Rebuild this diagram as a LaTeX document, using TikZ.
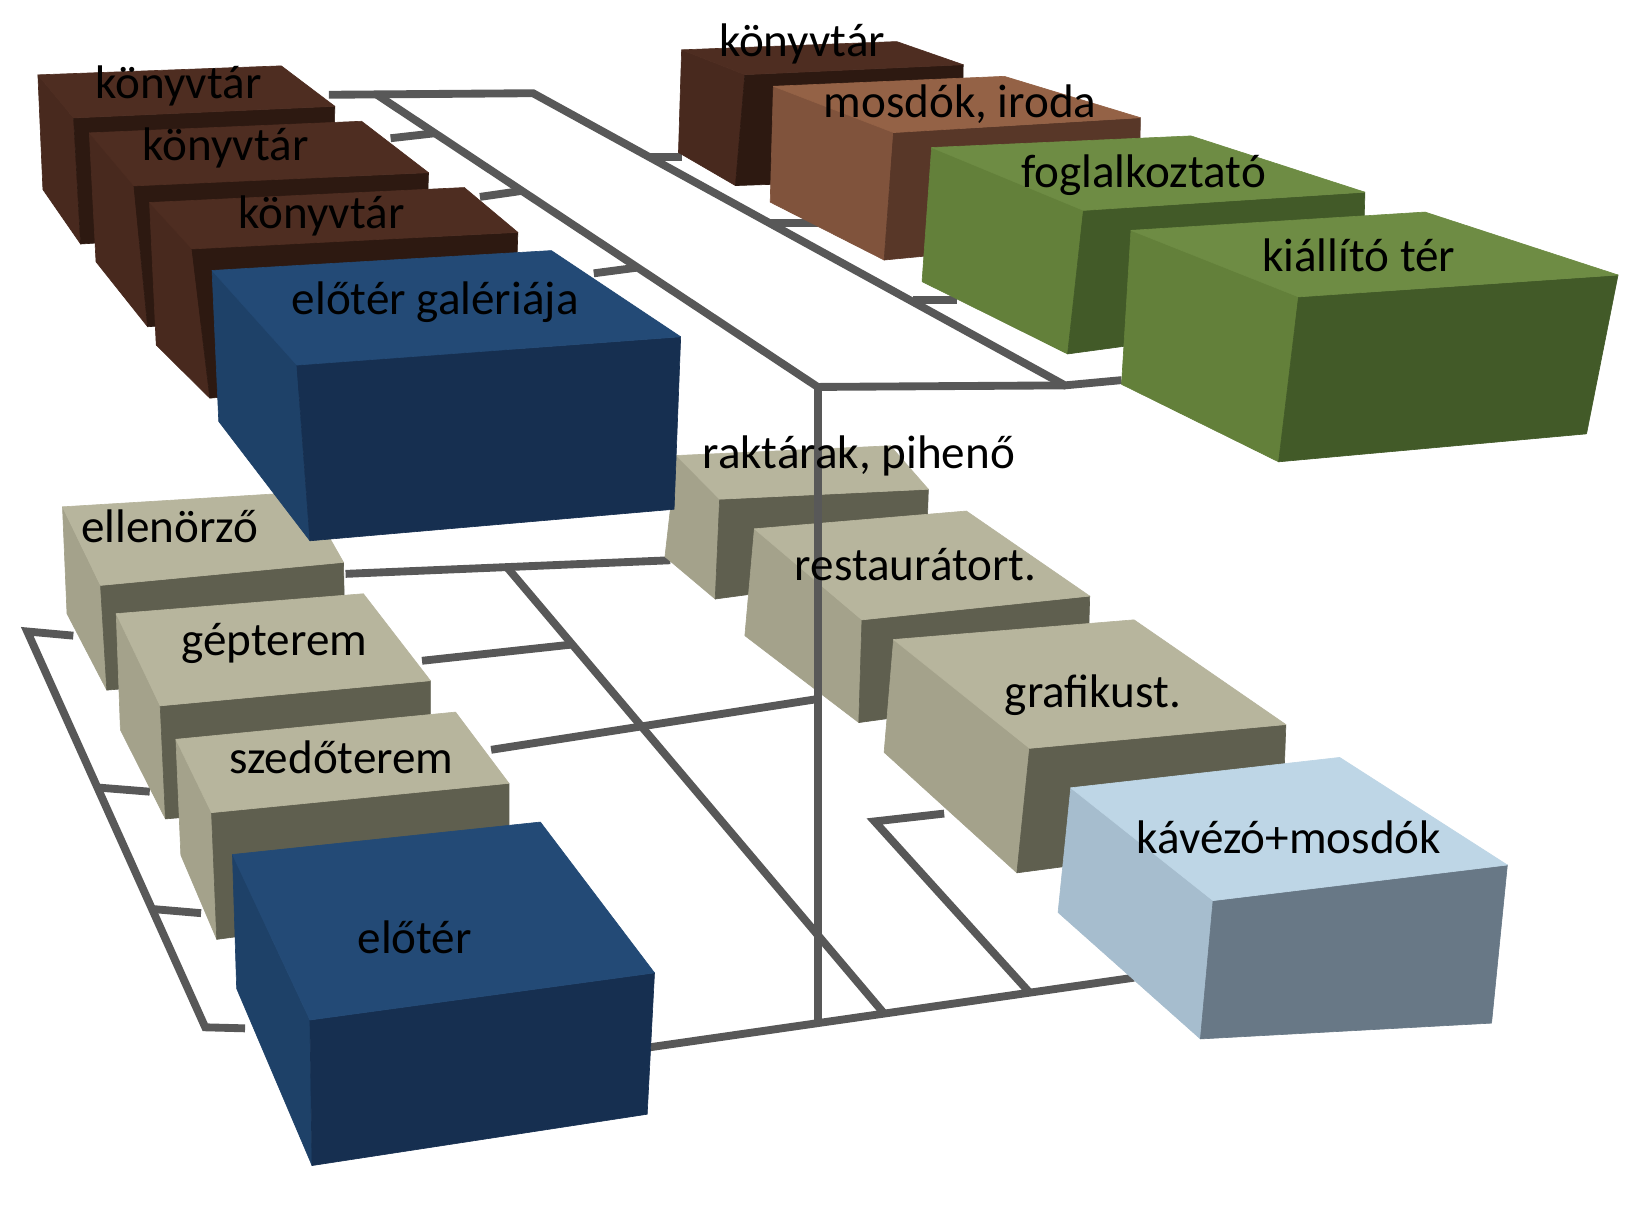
\documentclass[tikz,border=0pt]{standalone}
\usepackage{fontspec}
\setmainfont{Carlito}
\definecolor{brT}{RGB}{78,45,33}
\definecolor{brL}{RGB}{72,41,30}
\definecolor{brF}{RGB}{45,25,17}
\definecolor{lbT}{RGB}{148,98,70}
\definecolor{lbL}{RGB}{128,83,60}
\definecolor{lbF}{RGB}{88,55,40}
\definecolor{grT}{RGB}{110,140,68}
\definecolor{grL}{RGB}{99,128,58}
\definecolor{grF}{RGB}{66,90,40}
\definecolor{buT}{RGB}{35,74,118}
\definecolor{buL}{RGB}{30,65,104}
\definecolor{buF}{RGB}{22,47,80}
\definecolor{bgT}{RGB}{183,181,157}
\definecolor{bgL}{RGB}{164,162,139}
\definecolor{bgF}{RGB}{95,95,79}
\definecolor{kvT}{RGB}{190,214,230}
\definecolor{kvL}{RGB}{166,189,206}
\definecolor{kvF}{RGB}{104,120,134}
\definecolor{linegray}{RGB}{88,88,88}
% #1 colour prefix, #2 BL, #3 BR, #4 FR, #5 FL, #6 FR bottom, #7 FL bottom, #8 BL bottom
\newcommand\roombox[8]{%
  \filldraw[fill=#1L,draw=#1L,line width=0.6pt,line join=round] #2 -- #5 -- #7 -- #8 -- cycle;
  \filldraw[fill=#1F,draw=#1F,line width=0.6pt,line join=round] #5 -- #4 -- #6 -- #7 -- cycle;
  \filldraw[fill=#1T,draw=#1T,line width=0.6pt,line join=round] #2 -- #3 -- #4 -- #5 -- cycle;
}
\begin{document}
\begin{tikzpicture}[x=1pt,y=-1pt,
  conn/.style={draw=linegray,line width=7.5pt,line join=miter},
  lbl/.style={font=\fontsize{45}{54}\selectfont,inner sep=0pt,text=black}]
\useasboundingbox (0,0) rectangle (1568,1154);
\fill[white] (0,0) rectangle (1568,1154);

% ---------- connector coordinates ----------
\coordinate (h1) at (314,90.5);
\coordinate (h2) at (509,89);
\coordinate (i0) at (360,90.5);
\coordinate (jn) at (780.8,369.5);
\coordinate (o2) at (1017,368);
\coordinate (r4s) at (1071,363);
\coordinate (r1a) at (620.7,150);   \coordinate (r1b) at (651,150);
\coordinate (r2a) at (735.5,212.6); \coordinate (r2b) at (781,212.6);
\coordinate (r3a) at (871.4,286.8); \coordinate (r3b) at (914,286.8);
\coordinate (l2a) at (415.6,127.2); \coordinate (l2b) at (373,132);
\coordinate (l3a) at (498.8,182.2); \coordinate (l3b) at (458.3,188);
\coordinate (ga) at (609.6,255.4);  \coordinate (gb) at (567,261);
\coordinate (e1) at (330,548);      \coordinate (e2) at (640,535);
\coordinate (b4r) at (621,1000);    \coordinate (kvl) at (1082.9,933.6);
\coordinate (dtop) at (484,541.5);
\coordinate (dbot) at (844.3,967.9);
\coordinate (g2a) at (403,631);     \coordinate (g2b) at (intersection of g2a--{(541,616)} and dtop--dbot);
\coordinate (s3a) at (469,716);     \coordinate (s3b) at (780.8,667.5);
\coordinate (vbot) at (780.8,977.5);
\coordinate (ftop) at (835.2,784.4); \coordinate (fstub) at (901.6,776.9);
\coordinate (fbot) at (983.2,947.9);
\coordinate (k1) at (70,607);  \coordinate (k2) at (26,603);
\coordinate (k3) at (196,981); \coordinate (k4) at (234,982);
\coordinate (k5) at (93,752);  \coordinate (k6) at (143,756);
\coordinate (k7) at (145,868); \coordinate (k8) at (192,872);

% ---------- connectors under the boxes ----------
\draw[conn] (h1) -- (h2) -- (o2) -- (r4s);
\draw[conn] (i0) -- (jn) -- (o2);
\draw[conn] (r1a) -- (r1b);
\draw[conn] (r2a) -- (r2b);
\draw[conn] (r3a) -- (r3b);
\draw[conn] (l2a) -- (l2b);
\draw[conn] (l3a) -- (l3b);
\draw[conn] (ga) -- (gb);
\draw[conn] (e1) -- (e2);
\draw[conn] (dtop) -- (dbot);
\draw[conn] (g2a) -- (g2b);
\draw[conn] (s3a) -- (s3b);
\draw[conn] (b4r) -- (kvl);
\draw[conn] (fstub) -- (ftop) -- (fbot);
\draw[conn] (k1) -- (k2) -- (k3) -- (k4);
\draw[conn] (k5) -- (k6);
\draw[conn] (k7) -- (k8);

% ---------- boxes, back to front ----------
\roombox{br}{(36.2,71.5)}{(268.6,62.9)}{(319.7,101.5)}{(70.3,112.6)}{(318,218)}{(77,233)}{(41,181)}
\roombox{br}{(85.3,126.9)}{(345.3,115.8)}{(409.2,164.9)}{(127.9,177.5)}{(405,295)}{(141,312)}{(91.7,250)}
\roombox{br}{(142.8,193.4)}{(443.4,179.1)}{(494.5,221.9)}{(183.3,237.7)}{(490,355)}{(200.4,380.2)}{(149.2,329.5)}
\roombox{br}{(650.9,47.6)}{(856.3,39.7)}{(919.8,61.8)}{(711.3,71.3)}{(918,170)}{(702.3,177.2)}{(647.9,145.6)}
\roombox{lb}{(738.5,82.4)}{(959,72.9)}{(1089,112.4)}{(853.3,126.6)}{(1087,225)}{(844.3,248.3)}{(735.5,193)}
\roombox{gr}{(889.6,140.9)}{(1137.3,129.8)}{(1303.4,183.5)}{(1034.6,200.9)}{(1300,300)}{(1019.5,338)}{(880.5,268.9)}
\roombox{gr}{(1080,220)}{(1360.8,202.5)}{(1545.1,262.6)}{(1240,283.5)}{(1515,414.3)}{(1221,441)}{(1071,367)}
\roombox{bg}{(646,435)}{(850.3,425.7)}{(886.5,467.2)}{(687.2,476.7)}{(884,545)}{(683,572)}{(635,531.6)}
\roombox{bg}{(59.7,484)}{(290,470)}{(328,537)}{(96,559)}{(330,640)}{(102,659)}{(64,586)}
\roombox{bu}{(202.5,258.3)}{(526.5,239.3)}{(650,321.6)}{(283.5,348.6)}{(643.7,486.3)}{(296,516.4)}{(208.9,402.4)}
\roombox{bg}{(720.4,505)}{(922.8,488)}{(1040.6,569.2)}{(823.1,591.9)}{(1038,660)}{(820.1,690)}{(711.3,607)}
\roombox{bg}{(853.3,610.7)}{(1082.9,591.9)}{(1227.9,691.9)}{(983.2,714.6)}{(1224,800)}{(971.1,833.5)}{(844.3,718.4)}
\roombox{bg}{(111,586)}{(347,567)}{(411,650)}{(153,674)}{(411,760)}{(158,782)}{(115,697)}
\roombox{bg}{(168,706)}{(435,680)}{(486,748)}{(202,776)}{(486,860)}{(207,897)}{(172.7,816.5)}
\roombox{kv}{(1022.5,752.3)}{(1279.3,723.3)}{(1439.4,826)}{(1158.4,860)}{(1424.3,977)}{(1146.3,992.1)}{(1010.4,871.3)}
\roombox{bu}{(222,816)}{(516,785)}{(625,929)}{(296,974)}{(618,1064)}{(298,1113)}{(226,944)}

% ---------- vertical connector drawn over the middle boxes ----------
\draw[conn] (jn) -- (vbot);

% ---------- labels ----------
\node[lbl] (tL1) at (170.5,82.5) {könyvtár};
\node[lbl] (tL2) at (215.3,141) {könyvtár};
\node[lbl] (tL3) at (307,206) {könyvtár};
\node[lbl] (tG) at (415.6,288.4) {előtér galériája};
\node[lbl] (tR1) at (766,42) {könyvtár};
\node[lbl] (tR2) at (916.8,99.8) {mosdók, iroda};
\node[lbl] (tR3) at (1092,167.7) {foglalkoztató};
\node[lbl] (tR4) at (1297.4,243.6) {kiállító tér};
\node[lbl] (tM1) at (820.1,435) {raktárak, pihenő};
\node[lbl] (tM2) at (874.5,539) {restaurátort.};
\node[lbl] (tM3) at (1043.6,663.6) {grafikust.};
\node[lbl] (tM4) at (1230.9,799.5) {kávézó+mosdók};
\node[lbl] (tB1) at (162,503) {ellenörző};
\node[lbl] (tB2) at (262,614) {gépterem};
\node[lbl] (tB3) at (326,723) {szedőterem};
\node[lbl] (tB4) at (396,895) {előtér};
\end{tikzpicture}
\end{document}
